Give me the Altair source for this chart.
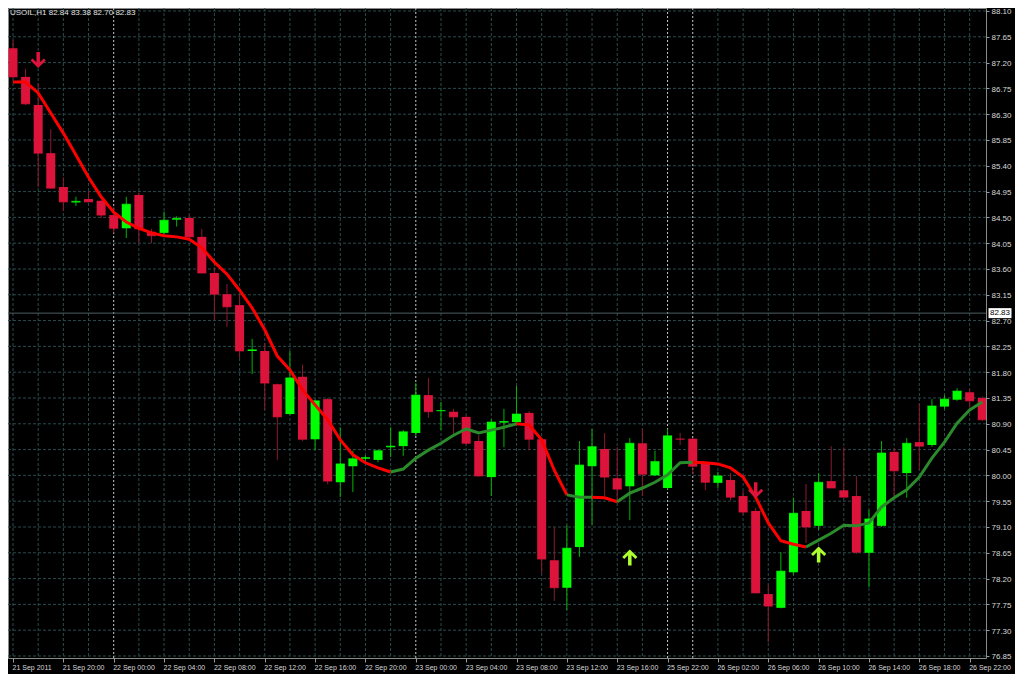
import altair as alt
import pandas as pd

# ---------------- data ----------------
opens  = [87.45, 86.95, 86.46, 85.62, 85.03, 84.76, 84.82, 84.79, 84.54, 84.31,
          84.89, 84.25, 84.23, 84.46, 84.49, 84.16, 83.53, 83.16, 82.97, 82.17,
          82.17, 81.59, 81.07, 81.72, 80.63, 81.33, 79.88, 80.16, 80.29, 80.27,
          80.49, 80.51, 80.74, 81.40, 81.12, 81.11, 81.02, 80.60, 79.97, 80.92,
          80.93, 81.09, 80.63, 78.52, 78.04, 78.75, 80.16, 80.46, 79.95, 79.81,
          80.56, 80.00, 79.78, 80.64, 80.64, 80.22, 79.87, 79.92, 79.64, 79.38,
          77.93, 77.69, 78.31, 79.38, 79.12, 79.90, 79.74, 79.64, 78.65, 79.12,
          80.41, 80.04, 80.58, 80.53, 81.20, 81.32, 81.45, 81.35]
highs  = [87.59, 87.09, 86.84, 86.04, 85.20, 84.86, 84.96, 84.80, 84.68, 84.86,
          84.93, 84.30, 84.60, 84.52, 84.54, 84.30, 83.63, 83.34, 83.15, 82.38,
          82.31, 81.60, 82.17, 81.93, 81.32, 81.35, 80.84, 80.43, 80.35, 80.45,
          80.84, 80.79, 81.61, 81.70, 81.28, 81.16, 81.05, 80.70, 80.98, 81.16,
          81.56, 81.12, 80.64, 79.10, 79.13, 80.60, 80.81, 80.74, 80.49, 80.65,
          80.81, 80.43, 80.81, 80.74, 80.65, 80.23, 80.06, 80.04, 79.73, 79.43,
          78.09, 78.66, 79.61, 79.85, 80.04, 80.51, 80.49, 79.99, 79.40, 80.60,
          80.48, 80.65, 81.25, 81.33, 81.40, 81.52, 81.51, 81.38]
lows   = [86.93, 86.46, 85.03, 85.00, 84.61, 84.70, 84.77, 84.49, 84.23, 84.14,
          84.05, 84.05, 84.20, 84.34, 84.10, 83.52, 82.71, 82.59, 82.05, 81.77,
          81.14, 80.27, 81.05, 80.60, 80.44, 79.85, 79.62, 79.71, 80.24, 80.23,
          80.32, 80.34, 80.69, 81.00, 80.79, 80.71, 80.52, 79.98, 79.64, 80.49,
          80.90, 80.44, 78.30, 77.81, 77.65, 78.58, 79.14, 79.64, 79.52, 79.22,
          79.64, 79.99, 79.75, 80.53, 80.02, 79.74, 79.78, 79.57, 79.31, 77.94,
          77.09, 77.68, 78.26, 78.82, 79.05, 79.78, 79.62, 78.63, 78.05, 79.10,
          79.64, 79.61, 80.09, 80.50, 81.16, 81.30, 81.18, 80.95]
closes = [86.95, 86.48, 85.62, 85.01, 84.77, 84.78, 84.77, 84.54, 84.31, 84.73,
          84.30, 84.18, 84.45, 84.48, 84.16, 83.53, 83.16, 82.94, 82.17, 82.19,
          81.61, 81.02, 81.70, 80.63, 81.30, 79.90, 80.20, 80.29, 80.31, 80.43,
          80.51, 80.76, 81.40, 81.11, 81.13, 81.02, 80.56, 79.99, 80.93, 80.94,
          81.07, 80.63, 78.54, 78.04, 78.73, 80.18, 80.50, 79.97, 79.76, 80.56,
          80.02, 80.24, 80.69, 80.63, 80.16, 79.88, 79.99, 79.62, 79.36, 77.95,
          77.72, 78.33, 79.34, 79.10, 79.88, 79.78, 79.62, 78.66, 79.24, 80.39,
          80.08, 80.56, 80.51, 81.21, 81.33, 81.47, 81.30, 80.97]
ma_vals = [86.86, 86.86, 86.67, 86.32, 85.97, 85.59, 85.20, 84.86, 84.59, 84.42,
           84.31, 84.23, 84.18, 84.16, 84.12, 83.97, 83.72, 83.51, 83.23, 82.92,
           82.54, 82.08, 81.84, 81.49, 81.23, 80.97, 80.62, 80.36, 80.22, 80.13,
           80.06, 80.11, 80.30, 80.44, 80.56, 80.70, 80.81, 80.74, 80.79, 80.84,
           80.90, 80.88, 80.62, 80.09, 79.66, 79.62, 79.62, 79.61, 79.54, 79.69,
           79.78, 79.88, 80.01, 80.22, 80.23, 80.22, 80.20, 80.13, 79.97, 79.62,
           79.17, 78.86, 78.80, 78.75, 78.87, 78.99, 79.13, 79.12, 79.17, 79.45,
           79.61, 79.75, 79.97, 80.30, 80.58, 80.91, 81.14, 81.28]
trend_runs = [(0, 30, "down"), (30, 40, "up"), (40, 44, "down"), (44, 46, "up"),
              (46, 48, "down"), (48, 54, "up"), (54, 63, "down"), (63, 77, "up")]

down_arrow_bars = [2, 59]
down_arrow_prices = [87.245, 79.74]
up_arrow_bars = [49, 64]
up_arrow_prices = [78.57, 78.62]

price_ticks = [88.10, 87.65, 87.20, 86.75, 86.30, 85.85, 85.40, 84.95, 84.50,
               84.05, 83.60, 83.15, 82.70, 82.25, 81.80, 81.35, 80.90, 80.45,
               80.00, 79.55, 79.10, 78.65, 78.20, 77.75, 77.30, 76.85]
time_tick_bars = [0, 4, 8, 12, 16, 20, 24, 28, 32, 36, 40, 44, 48, 52, 56, 60,
                  64, 68, 72, 76]
time_tick_labels = ["21 Sep 2011", "21 Sep 20:00", "22 Sep 00:00", "22 Sep 04:00",
                    "22 Sep 08:00", "22 Sep 12:00", "22 Sep 16:00", "22 Sep 20:00",
                    "23 Sep 00:00", "23 Sep 04:00", "23 Sep 08:00", "23 Sep 12:00",
                    "23 Sep 16:00", "25 Sep 22:00", "26 Sep 02:00", "26 Sep 06:00",
                    "26 Sep 10:00", "26 Sep 14:00", "26 Sep 18:00", "26 Sep 22:00"]
grid_bars = [0, 2, 4, 6, 10, 12, 14, 16, 18, 20, 22, 24, 26, 28, 30, 34, 36, 38,
             40, 42, 44, 46, 48, 50, 56, 58, 60, 62, 64, 66, 68, 70, 72, 74, 76]
day_separator_bars = [8, 32, 52, 54]
bid_price = 82.83
header_text = "USOIL,H1  82.84 83.38 82.70 82.83"

# ---------------- tables ----------------
n = len(opens)
candles = pd.DataFrame({
    "i": list(range(n)), "open": opens, "high": highs, "low": lows, "close": closes,
})
candles["dir"] = ["up" if c >= o else "down" for o, c in zip(opens, closes)]

ma_rows = []
for r, (a, b, t) in enumerate(trend_runs):
    for k in range(a, b + 1):
        ma_rows.append({"i": k, "ma": ma_vals[k], "trend": t, "run": r})
ma_df = pd.DataFrame(ma_rows)

down_arrows = pd.DataFrame({"i": down_arrow_bars, "p": down_arrow_prices})
up_arrows = pd.DataFrame({"i": up_arrow_bars, "p": up_arrow_prices})
hgrid = pd.DataFrame({"p": price_ticks})
vgrid = pd.DataFrame({"i": grid_bars})
dsep = pd.DataFrame({"i": day_separator_bars})
bid = pd.DataFrame({"p": [bid_price], "t": [f"{bid_price:.2f}"]})
header = pd.DataFrame({"t": [header_text]})

# ---------------- scales / axes ----------------
W, H = 978, 650
FONT = "Liberation Sans"
xs = alt.Scale(domain=[0, 76.9], nice=False, zero=False)
ys = alt.Scale(domain=[76.815, 88.152], nice=False, zero=False)

label_js = "[" + ",".join("'" + s + "'" for s in time_tick_labels) + "]"
xaxis = alt.Axis(values=time_tick_bars, labelExpr=f"{label_js}[round(datum.value/4)]",
                 title=None, grid=False, orient="bottom", labelAlign="left",
                 labelPadding=1, labelOffset=-1, tickSize=4, tickColor="#9a9a9a",
                 domain=False, labelColor="#d8d8d8", labelFont=FONT,
                 labelFontSize=7, labelOverlap=False, labelBound=False,
                 labelFlush=False)
yaxis = alt.Axis(values=price_ticks, format=".2f", title=None, grid=False,
                 orient="right", tickSize=3, tickColor="#9a9a9a", domain=False,
                 labelPadding=2, labelOffset=1, labelColor="#d8d8d8", labelFont=FONT,
                 labelFontSize=8, labelOverlap=False, labelFlush=False)


def X(field):
    return alt.X(field, type="quantitative", scale=xs, axis=xaxis)


def Y(field):
    return alt.Y(field, type="quantitative", scale=ys, axis=yaxis)


grid_col = "#2c4a4a"
h_grid = alt.Chart(hgrid).mark_rule(color=grid_col, strokeDash=[3, 2],
                                    strokeWidth=1).encode(y=Y("p"))
v_grid = alt.Chart(vgrid).mark_rule(color=grid_col, strokeDash=[3, 2],
                                    strokeWidth=1).encode(x=X("i"))
d_sep = alt.Chart(dsep).mark_rule(color="#c8c8c8", strokeDash=[2, 2],
                                  strokeWidth=1).encode(x=X("i"))
bid_line = alt.Chart(bid).mark_rule(color="#4f5f5f", strokeWidth=1).encode(y=Y("p"))

wick = alt.Chart(candles).mark_rule(strokeWidth=1, clip=True).encode(
    x=X("i"), y=Y("low"), y2="high",
    color=alt.Color("dir:N", scale=alt.Scale(domain=["up", "down"],
                                             range=["#00b400", "#8b1a2e"]), legend=None),
)
body = alt.Chart(candles).mark_bar(size=9, clip=True).encode(
    x=X("i"), y=Y("open"), y2="close",
    color=alt.Color("dir:N", scale=alt.Scale(domain=["up", "down"],
                                             range=["#00ff00", "#dc143c"]), legend=None),
)
doji = alt.Chart(candles).mark_tick(orient="horizontal", size=9, thickness=1,
                                    clip=True).encode(
    x=X("i"), y=Y("close"),
    color=alt.Color("dir:N", scale=alt.Scale(domain=["up", "down"],
                                             range=["#00ff00", "#dc143c"]), legend=None),
)

ma_line = alt.Chart(ma_df).mark_line(strokeWidth=3, clip=True).encode(
    x=X("i"), y=Y("ma"), detail="run:N", order="i:Q",
    color=alt.Color("trend:N", scale=alt.Scale(domain=["down", "up"],
                                               range=["#ff0000", "#2b8a2b"]), legend=None),
)

DOWN_PATH = ("M0,1 L0.95,0.05 L0.7,-0.2 L0.22,0.28 L0.22,-1 L-0.22,-1 "
             "L-0.22,0.28 L-0.7,-0.2 L-0.95,0.05 Z")
UP_PATH = ("M0,-1 L0.95,-0.05 L0.7,0.2 L0.22,-0.28 L0.22,1 L-0.22,1 "
           "L-0.22,-0.28 L-0.7,0.2 L-0.95,-0.05 Z")
down_mark = alt.Chart(down_arrows).mark_point(
    shape=DOWN_PATH, size=256, filled=True, opacity=1, strokeWidth=0,
    color="#dc143c").encode(x=X("i"), y=Y("p"))
up_mark = alt.Chart(up_arrows).mark_point(
    shape=UP_PATH, size=256, filled=True, opacity=1, strokeWidth=0,
    color="#adff2f").encode(x=X("i"), y=Y("p"))

bid_box = alt.Chart(bid).mark_tick(orient="vertical", size=10, thickness=23,
                                   color="white", clip=False, opacity=1).encode(
    x=alt.value(W + 14), y=Y("p"))
bid_text = alt.Chart(bid).mark_text(font=FONT, fontSize=8, color="black",
                                    align="center", baseline="middle").encode(
    x=alt.value(W + 14), y=Y("p"), text="t:N")

header_mark = alt.Chart(header).mark_text(font=FONT, fontSize=8, color="#e0e0e0",
                                          align="left", baseline="top").encode(
    x=alt.value(2), y=alt.value(1), text="t:N")

chart = alt.layer(
    h_grid, v_grid, d_sep, bid_line, wick, body, doji, ma_line, down_mark, up_mark,
    bid_box, bid_text, header_mark,
).resolve_scale(color="independent").properties(
    width=W, height=H,
    padding={"left": 0, "top": 0, "right": 29, "bottom": 16},
    autosize=alt.AutoSizeParams(type="none"),
    background="black",
).configure_view(fill="black", stroke="#8a8a8a", strokeWidth=1)

chart.save("out.html", embed_options={"renderer": "svg", "actions": False})
